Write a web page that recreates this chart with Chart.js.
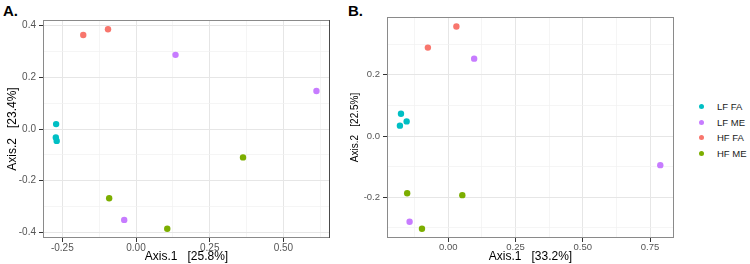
<!DOCTYPE html>
<html lang="en">
<head>
    <meta charset="UTF-8">
    <title>PCoA plots</title>
    <script src="https://cdn.jsdelivr.net/npm/chart.js@4.4.1/dist/chart.umd.min.js"></script>
    <style>
        body {
            margin: 0;
            background: #fff;
            font-family: "Liberation Sans", Arial, sans-serif;
        }
        #wrap {
            position: relative;
            width: 750px;
            height: 264px;
            overflow: hidden;
        }
        canvas {
            position: absolute;
            top: 0;
        }
        .panel-tag {
            position: absolute;
            font-weight: bold;
            font-size: 15px;
            line-height: 15px;
            color: #000;
        }
        .leg-item {
            position: absolute;
            left: 699px;
            font-size: 9.5px;
            line-height: 12px;
            color: #1a1a1a;
            white-space: nowrap;
        }
        .leg-dot {
            display: inline-block;
            width: 5px;
            height: 5px;
            border-radius: 50%;
            margin-right: 13px;
            vertical-align: 1px;
        }
    </style>
</head>
<body>
<div id="wrap">
    <div class="panel-tag" style="left:3px; top:3px;">A.</div>
    <div class="panel-tag" style="left:348px; top:3px;">B.</div>
    <canvas id="chartA" width="340" height="264" style="left:0;"></canvas>
    <canvas id="chartB" width="340" height="264" style="left:340px;"></canvas>
    <div id="legend"></div>
</div>

<script>
    // groups, in legend order
    const groups = ['LF FA', 'LF ME', 'HF FA', 'HF ME'];
    const groupColors = ['#00BFC4', '#C77CFF', '#F8766D', '#7CAE00'];

    // panel A points [Axis.1, Axis.2]
    const aLfFa = [[-0.271, 0.019], [-0.272, -0.033], [-0.269, -0.046]];
    const aLfMe = [[0.134, 0.287], [0.612, 0.147], [-0.040, -0.352]];
    const aHfFa = [[-0.179, 0.364], [-0.095, 0.386]];
    const aHfMe = [[0.363, -0.110], [-0.091, -0.268], [0.106, -0.386]];

    // panel B points [Axis.1, Axis.2]
    const bLfFa = [[-0.176, 0.073], [-0.155, 0.048], [-0.180, 0.034]];
    const bLfMe = [[0.096, 0.253], [0.788, -0.095], [-0.144, -0.280]];
    const bHfFa = [[0.030, 0.358], [-0.076, 0.289]];
    const bHfMe = [[-0.153, -0.187], [0.052, -0.193], [-0.098, -0.303]];

    // axis titles and tick labels
    const titlesA = ['Axis.1   [25.8%]', 'Axis.2   [23.4%]'];
    const titlesB = ['Axis.1   [33.2%]', 'Axis.2   [22.5%]'];
    const xTicksA = [-0.25, 0, 0.25, 0.5];
    const yTicksA = [-0.4, -0.2, 0, 0.2, 0.4];
    const xTicksB = [0, 0.25, 0.5, 0.75];
    const yTicksB = [-0.2, 0, 0.2];

    const tickFont = (size) => ({ family: '"Liberation Sans", Arial, sans-serif', size: size });

    // all grid positions: majors plus midpoints (minor grid), kept inside range
    function gridValues(majors, min, max) {
        const step = majors[1] - majors[0];
        const out = [];
        for (let v = majors[0] - step; v <= majors[majors.length - 1] + step + 1e-9; v += step / 2) {
            if (v > min + 1e-6 && v < max - 1e-6) out.push(Math.round(v * 1000) / 1000);
        }
        return out;
    }

    function isMajor(majors, v) {
        return majors.some(m => Math.abs(m - v) < 1e-6);
    }

    const frame = {
        id: 'frame',
        afterDatasetsDraw(chart, args, opts) {
            const a = chart.chartArea;
            const ctx = chart.ctx;
            ctx.save();
            ctx.lineWidth = 1;
            ctx.strokeStyle = opts.color;
            ctx.strokeRect(a.left + 0.5, a.top + 0.5, a.right - a.left - 1, a.bottom - a.top - 1);
            if (opts.rightColor) {
                ctx.strokeStyle = opts.rightColor;
                ctx.beginPath();
                ctx.moveTo(a.right - 0.5, a.top);
                ctx.lineTo(a.right - 0.5, a.bottom);
                ctx.stroke();
            }
            ctx.restore();
        }
    };

    function axis(cfg) {
        const all = gridValues(cfg.majors, cfg.min, cfg.max);
        return {
            type: 'linear',
            position: cfg.position,
            min: cfg.min,
            max: cfg.max,
            afterBuildTicks: (scale) => {
                scale.ticks = all.map(v => ({ value: v }));
            },
            afterFit: (scale) => {
                if (cfg.position === 'left') scale.width = cfg.size;
                else scale.height = cfg.size;
            },
            border: { display: false },
            grid: {
                color: (c) => isMajor(cfg.majors, c.tick.value) ? '#e6e6e6' : '#f1f1f1',
                lineWidth: (c) => isMajor(cfg.majors, c.tick.value) ? 1 : 0.7,
                tickColor: (c) => isMajor(cfg.majors, c.tick.value) ? '#333333' : 'rgba(0,0,0,0)',
                tickLength: 4,
                tickWidth: 1
            },
            ticks: {
                autoSkip: false,
                maxRotation: 0,
                padding: cfg.position === 'left' ? 3 : 0,
                color: '#555555',
                font: tickFont(cfg.tickSize),
                callback: (v) => isMajor(cfg.majors, v) ? Number(v).toFixed(cfg.digits) : ''
            },
            title: {
                display: true,
                text: cfg.title,
                color: '#000',
                font: tickFont(cfg.titleSize),
                padding: cfg.titlePad
            }
        };
    }

    function makeChart(id, sets, opt) {
        return new Chart(document.getElementById(id), {
            type: 'scatter',
            data: {
                datasets: sets.map((pts, i) => ({
                    label: groups[i],
                    data: pts.map(p => ({ x: p[0], y: p[1] })),
                    backgroundColor: groupColors[i],
                    borderWidth: 0,
                    pointRadius: 3.2,
                    pointHoverRadius: 3.2
                }))
            },
            options: {
                responsive: false,
                animation: false,
                events: [],
                layout: { padding: opt.padding },
                plugins: {
                    legend: { display: false },
                    tooltip: { enabled: false },
                    frame: opt.frame
                },
                scales: { x: opt.x, y: opt.y }
            },
            plugins: [frame]
        });
    }

    makeChart('chartA', [aLfFa, aLfMe, aHfFa, aHfMe], {
        padding: { left: 0, top: 20, right: 10, bottom: 0 },
        frame: { color: '#8a8a8a', rightColor: '#4a4a4a' },
        x: axis({ position: 'bottom', min: -0.3155, max: 0.658, majors: xTicksA, size: 26,
                  tickSize: 10, digits: 2, title: titlesA[0], titleSize: 12, titlePad: { top: 0, bottom: 0 } }),
        y: axis({ position: 'left', min: -0.422, max: 0.422, majors: yTicksA, size: 43,
                  tickSize: 10, digits: 1, title: titlesA[1], titleSize: 12, titlePad: { top: 5, bottom: 0 } })
    });

    makeChart('chartB', [bLfFa, bLfMe, bHfFa, bHfMe], {
        padding: { left: 0, top: 17, right: 6, bottom: 0 },
        frame: { color: '#8a8a8a' },
        x: axis({ position: 'bottom', min: -0.228, max: 0.839, majors: xTicksB, size: 26,
                  tickSize: 9.5, digits: 2, title: titlesB[0], titleSize: 12, titlePad: { top: 0, bottom: 0 } }),
        y: axis({ position: 'left', min: -0.333, max: 0.389, majors: yTicksB, size: 47,
                  tickSize: 9.5, digits: 1, title: titlesB[1], titleSize: 10, titlePad: { top: 9, bottom: 0 } })
    });

    // legend to the right of panel B
    const legend = document.getElementById('legend');
    const legendRows = [101, 116.5, 132, 148];
    groups.forEach((g, i) => {
        const item = document.createElement('div');
        item.className = 'leg-item';
        item.style.top = legendRows[i] + 'px';
        item.innerHTML = '<span class="leg-dot" style="background:' + groupColors[i] + '"></span>' + g;
        legend.appendChild(item);
    });
</script>
</body>
</html>
